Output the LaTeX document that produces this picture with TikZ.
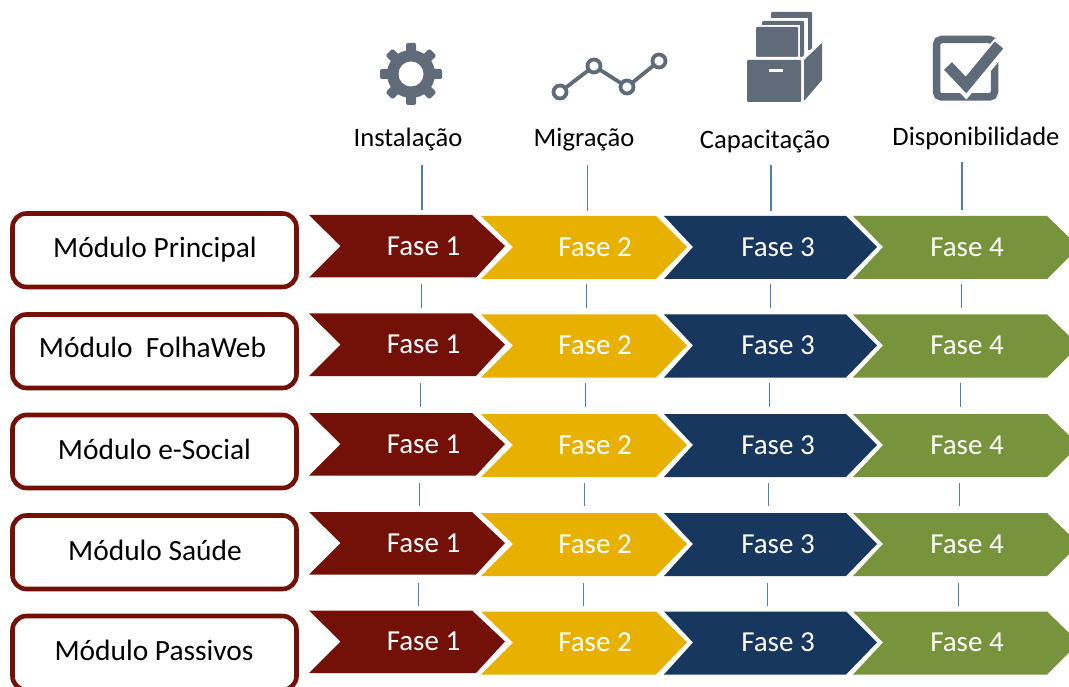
\documentclass[tikz,border=0pt]{standalone}
\usepackage{fontspec}
\setmainfont{Carlito}
\definecolor{cred}{HTML}{731008}
\definecolor{cyel}{HTML}{E8B000}
\definecolor{cblu}{HTML}{17375E}
\definecolor{cgrn}{HTML}{77933C}
\definecolor{ctick}{HTML}{4A7EBB}
\definecolor{cicon}{HTML}{5F6B78}
\tikzset{
  x=1pt,y=-1pt,
  modbox/.style={draw=cred,line width=4.6pt,rounded corners=14pt,fill=white},
  modtext/.style={font=\fontsize{29.4}{32}\selectfont,text=black,inner sep=0pt},
  fasetext/.style={font=\fontsize{29}{32}\selectfont,text=white,inner sep=0pt},
  headtext/.style={font=\fontsize{26.6}{30}\selectfont,text=black,inner sep=0pt},
  tick/.style={draw=ctick,line width=1.9pt},
  iconline/.style={draw=cicon,line width=3.8pt},
}
\newcommand{\rowdraw}[7]{%
  \coordinate (#1bl) at (12.5,#3);
  \coordinate (#1br) at (296.5,#4);
  \draw[modbox] (#1bl) rectangle (#1br);
  \node[modtext] (#1m) at (#7,#6) {#5};
  \fill[cred] (309,#2) -- (472,#2) -- (505,#2+31) -- (476,#2+62.5) -- (309,#2+62.5) -- (340.5,#2+31) -- cycle;
  \fill[cyel] (481,#2+1) -- (656,#2+1) -- (687,#2+32) -- (656,#2+64) -- (481,#2+64) -- (513,#2+32) -- cycle;
  \fill[cblu] (664,#2+1) -- (846,#2+1) -- (877,#2+32) -- (846,#2+64) -- (664,#2+64) -- (693,#2+32) -- cycle;
  \fill[cgrn] (853,#2+1) -- (1047,#2+1) -- (1079,#2+32) -- (1047,#2+64) -- (853,#2+64) -- (883,#2+32) -- cycle;
  \node[fasetext] (#1a) at (423.5,#2+31) {Fase 1};
  \node[fasetext] (#1b) at (595,#2+32) {Fase 2};
  \node[fasetext] (#1c) at (778,#2+32) {Fase 3};
  \node[fasetext] (#1d) at (967,#2+32) {Fase 4};
}
\newcommand{\tickset}[4]{%
  \coordinate (t#1a) at (#2,#3); \coordinate (t#1b) at (#2,#4);
  \draw[tick] (#2,#3) -- (#2,#4);
  \draw[tick] (#2+165,#3) -- (#2+165,#4);
  \draw[tick] (#2+349,#3) -- (#2+349,#4);
  \draw[tick] (#2+540,#3) -- (#2+540,#4);
}
\begin{document}
\begin{tikzpicture}
\useasboundingbox (0,0) rectangle (1069,687);
\clip (0,0) rectangle (1069,687);
\coordinate (h1a) at (422,165); \coordinate (h1b) at (422,210);
\coordinate (h2a) at (587.5,165); \coordinate (h2b) at (587.5,211);
\coordinate (h3a) at (771,165); \coordinate (h3b) at (771,211);
\coordinate (h4a) at (962,162); \coordinate (h4b) at (962,210);
\draw[tick] (h1a) -- (h1b);
\draw[tick] (h2a) -- (h2b);
\draw[tick] (h3a) -- (h3b);
\draw[tick] (h4a) -- (h4b);
\rowdraw{r1}{215}{213.5}{287}{Módulo Principal}{250}{155}
\rowdraw{r2}{313.5}{314.5}{388}{Módulo\ \ FolhaWeb}{347}{152.5}
\rowdraw{r3}{413}{415}{488}{Módulo e-Social}{449}{154.5}
\rowdraw{r4}{512}{515.5}{589}{Módulo Saúde}{550}{155}
\rowdraw{r5}{610.5}{616}{690}{Módulo Passivos}{650}{154}
\tickset{1}{421.5}{284}{308}
\tickset{2}{420.5}{383}{407}
\tickset{3}{419.5}{483}{506}
\tickset{4}{418.5}{583}{606}
\node[headtext] (l1) at (408,140) {Instalação};
\node[headtext] (l2) at (584,140) {Migração};
\node[headtext] (l3) at (765,142) {Capacitação};
\node[headtext] (l4) at (976,138) {Disponibilidade};
\begin{scope}[shift={(411,74)}]
  \foreach \a in {0,45,...,315}{
    \fill[cicon,rotate=\a,rounded corners=1.5pt] (-5,-31) rectangle (5,-18);
  }
  \fill[cicon] (0,0) circle (24);
  \fill[white] (0,0) circle (12.5);
\end{scope}
\draw[iconline] (560,92) -- (594,66) -- (627,87) -- (659,61);
\foreach \p in {(560,92),(594,66),(627,87),(659,61)}{
  \draw[iconline,fill=white] \p circle (6.5);
}
\fill[cicon,rounded corners=1pt] (771,12) rectangle (812,50);
\fill[white] (767,18) rectangle (808,60);
\fill[cicon,rounded corners=1pt] (762,21) rectangle (804,57);
\fill[white] (759,25) rectangle (800,60);
\fill[cicon,rounded corners=1pt] (756,27) rectangle (798,57);
\fill[white] (744,57) -- (802,57) -- (824,38) -- (826,104) -- (744,104) -- cycle;
\fill[cicon,rounded corners=1pt] (747,60) rectangle (801,102);
\fill[cicon] (804,60) -- (822,43) -- (822,80) -- (804,101) -- cycle;
\fill[white] (769,69) rectangle (783,72);
\draw[cicon,line width=7.5pt,rounded corners=5pt] (936.5,39.5) rectangle (994.5,97);
\draw[white,line width=18pt] (950,69) -- (966,86) -- (1002,44);
\draw[cicon,line width=11pt] (948,66) -- (966,85) -- (999,45);
\end{tikzpicture}
\end{document}
